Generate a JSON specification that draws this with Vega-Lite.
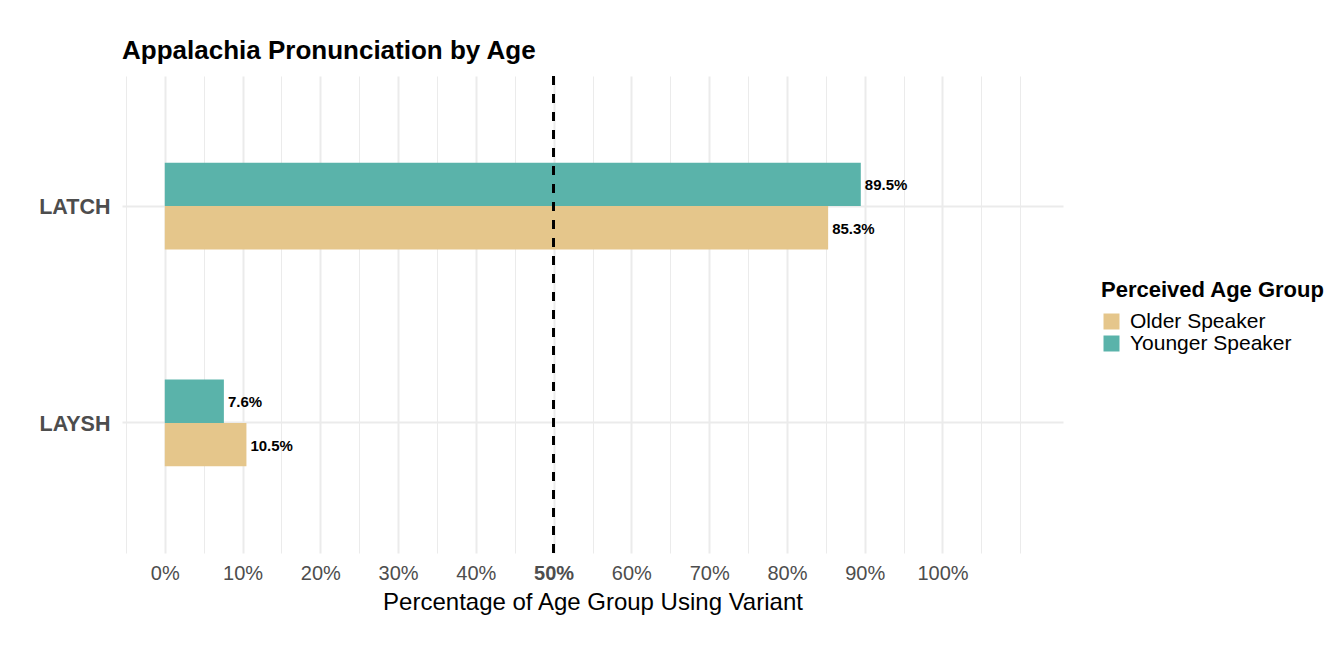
{
  "$schema": "https://vega.github.io/schema/vega-lite/v6.json",
  "autosize": {"type": "none"},
  "padding": {"left": 122, "top": 76, "right": 267, "bottom": 105},
  "width": 941,
  "height": 477,
  "config": {
    "font": "Liberation Sans",
    "view": {"stroke": null}
  },
  "title": {
    "text": "Appalachia Pronunciation by Age",
    "fontSize": 26,
    "fontWeight": "bold",
    "color": "#000000",
    "anchor": "start",
    "frame": "group",
    "offset": 11
  },
  "data": {
    "values": [
      {"variant": "LATCH", "group": "Younger Speaker", "pct": 0.895},
      {"variant": "LATCH", "group": "Older Speaker", "pct": 0.853},
      {"variant": "LAYSH", "group": "Younger Speaker", "pct": 0.076},
      {"variant": "LAYSH", "group": "Older Speaker", "pct": 0.105}
    ]
  },
  "encoding": {
    "y": {
      "field": "variant",
      "type": "nominal",
      "scale": {"domain": ["LATCH", "LAYSH"], "paddingInner": 0.6, "paddingOuter": 0.4},
      "axis": {
        "title": null,
        "grid": true,
        "gridColor": "#EBEBEB",
        "gridWidth": 2,
        "bandPosition": 0.5,
        "ticks": false,
        "domain": false,
        "labelFontSize": 21.5,
        "labelFontWeight": "bold",
        "labelColor": "#4D4D4D",
        "labelPadding": 12,
        "labelOffset": 2
      }
    },
    "yOffset": {
      "field": "group",
      "type": "nominal",
      "scale": {"domain": ["Younger Speaker", "Older Speaker"], "paddingInner": 0, "paddingOuter": 0}
    }
  },
  "layer": [
    {
      "mark": {"type": "bar"},
      "encoding": {
        "x": {
          "field": "pct",
          "type": "quantitative",
          "scale": {"domain": [-0.055, 1.155], "nice": false, "zero": false},
          "axis": {
            "values": [-0.05, 0, 0.05, 0.1, 0.15, 0.2, 0.25, 0.3, 0.35, 0.4, 0.45, 0.5, 0.55, 0.6, 0.65, 0.7, 0.75, 0.8, 0.85, 0.9, 0.95, 1, 1.05, 1.1],
            "format": ".0%",
            "labelExpr": "(abs(round(datum.value*100) % 10) < 0.001 && datum.value > -0.01 && datum.value < 1.01) ? datum.label : ''",
            "title": "Percentage of Age Group Using Variant",
            "titleFontSize": 24,
            "titleFontWeight": "normal",
            "titleColor": "#000000",
            "titlePadding": 7,
            "grid": true,
            "gridColor": "#EBEBEB",
            "gridWidth": {"condition": {"test": "abs(round(datum.value*100) % 10) < 0.001 && datum.value > -0.01 && datum.value < 1.01", "value": 2}, "value": 1},
            "ticks": false,
            "domain": false,
            "labelFontSize": 20,
            "labelColor": "#4D4D4D",
            "labelFontWeight": {"condition": {"test": "abs(datum.value - 0.5) < 0.001", "value": "bold"}, "value": "normal"},
            "labelPadding": 10,
            "labelOverlap": false,
            "labelFlush": false
          }
        },
        "color": {
          "field": "group",
          "type": "nominal",
          "scale": {"domain": ["Older Speaker", "Younger Speaker"], "range": ["#E5C68B", "#5AB3AA"]},
          "legend": {
            "title": "Perceived Age Group",
            "orient": "none",
            "legendX": 979,
            "legendY": 204,
            "padding": 0,
            "titleFontSize": 22,
            "titleFontWeight": "bold",
            "titleColor": "#000000",
            "titlePadding": 9,
            "titleLimit": 400,
            "labelFontSize": 21,
            "labelColor": "#000000",
            "labelLimit": 400,
            "labelOffset": 8,
            "symbolType": "square",
            "symbolSize": 256,
            "symbolStrokeWidth": 0,
            "symbolOpacity": 1,
            "rowPadding": 0
          }
        }
      }
    },
    {
      "mark": {"type": "text", "align": "left", "baseline": "middle", "dx": 4, "dy": 1, "fontSize": 15, "fontWeight": "bold", "color": "#000000"},
      "encoding": {
        "x": {"field": "pct", "type": "quantitative"},
        "text": {"field": "pct", "type": "quantitative", "format": ".1%"}
      }
    },
    {
      "mark": {"type": "rule", "color": "#000000", "strokeWidth": 2.5, "strokeDash": [9, 9]},
      "encoding": {
        "x": {"datum": 0.5},
        "y": null,
        "yOffset": null
      }
    }
  ]
}
